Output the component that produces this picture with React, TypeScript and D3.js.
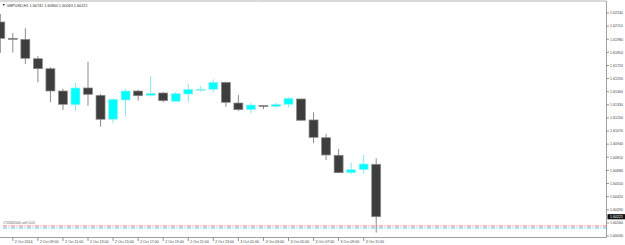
import React from "react";
import * as d3 from "d3";

const openP = [1.62151,1.61989,1.61979,1.61787,1.61688,1.61467,1.61331,1.61497,1.61424,1.61187,1.61378,1.61467,1.61424,1.61447,1.61365,1.61437,1.61482,1.61484,1.61553,1.61348,1.61282,1.61323,1.61315,1.61335,1.61388,1.61180,1.61004,1.60830,1.60657,1.60687,1.60741];
const highP = [1.62230,1.62042,1.62088,1.61814,1.61702,1.61490,1.61549,1.61757,1.61437,1.61391,1.61490,1.61477,1.61616,1.61457,1.61460,1.61536,1.61517,1.61583,1.61559,1.61427,1.61351,1.61328,1.61351,1.61403,1.61393,1.61256,1.61041,1.60892,1.60757,1.60833,1.60800];
const lowP = [1.61844,1.61847,1.61735,1.61553,1.61355,1.61279,1.61272,1.61321,1.61113,1.61147,1.61219,1.61371,1.61411,1.61355,1.61361,1.61358,1.61460,1.61454,1.61311,1.61269,1.61246,1.61286,1.61296,1.61305,1.61170,1.60949,1.60783,1.60654,1.60642,1.60651,1.60063];
const closeP = [1.61989,1.61987,1.61791,1.61688,1.61467,1.61335,1.61497,1.61434,1.61187,1.61385,1.61467,1.61420,1.61444,1.61371,1.61440,1.61484,1.61484,1.61553,1.61355,1.61282,1.61328,1.61321,1.61335,1.61395,1.61177,1.61008,1.60833,1.60657,1.60687,1.60744,1.60221];

const priceTicks = [1.62240,1.62110,1.61980,1.61850,1.61720,1.61590,1.61460,1.61330,1.61200,1.61070,1.60940,1.60810,1.60680,1.60550,1.60420,1.60290,1.60160,1.60030];
const timeTickLabels = ["2 Oct 2014","2 Oct 09:00","2 Oct 11:00","2 Oct 13:00","2 Oct 15:00","2 Oct 17:00","2 Oct 19:00","2 Oct 21:00","2 Oct 23:00","3 Oct 01:00","3 Oct 03:00","3 Oct 05:00","3 Oct 07:00","3 Oct 09:00","3 Oct 11:00","3 Oct 13:00"];

const orderLabel = "#72445500 sell 0.01";
const slLevel = 1.60129;
const openLevel = 1.60109;

const W = 625, H = 245;
const start = new Date(2014, 9, 2, 7);
const end = new Date(2014, 9, 3, 13);
const times = d3.timeHour.range(start, new Date(2014, 9, 3, 14));
const tickTimes = d3.timeHour.every(2)!.range(start, new Date(2014, 9, 3, 14));

export default function App() {
  const x = d3.scaleTime().domain([start, end]).range([0.3, 376.2]);
  const y = d3.scaleLinear().domain([1.6003, 1.6224]).range([236, 13]);
  const plotRight = 606.5, plotBottom = 237.5;
  const font = "'Liberation Sans', Arial, sans-serif";
  const last = closeP.length - 1;
  const header = `GBPUSD,H1  ${openP[last].toFixed(5)} ${highP[last].toFixed(5)} ${lowP[last].toFixed(5)} ${closeP[last].toFixed(5)}`;
  return (
    <div style={{ position: "fixed", left: 0, top: 0 }}>
      <svg width={W} height={H} style={{ display: "block", background: "#fff" }}>
        <defs>
          <clipPath id="plot"><rect x={0} y={1} width={plotRight} height={plotBottom - 1} /></clipPath>
        </defs>
        <rect x={0} y={0} width={W} height={H} fill="#fff" />
        <g clipPath="url(#plot)">
          <line x1={3} x2={plotRight} y1={y(slLevel)} y2={y(slLevel)} stroke="#f46a6a" strokeWidth={1} strokeDasharray="4,1.5,1,1.5" />
          <line x1={3} x2={plotRight} y1={y(openLevel)} y2={y(openLevel)} stroke="#4cccee" strokeWidth={1} strokeDasharray="4,1.5,1,1.5" />
          {times.map((t, i) => {
            const cx = x(t);
            const o = openP[i], c = closeP[i];
            const bull = c > o;
            const top = y(Math.max(o, c)), bot = y(Math.min(o, c));
            const hgt = Math.max(1, bot - top);
            return (
              <g key={i}>
                <line x1={cx} x2={cx} y1={y(highP[i])} y2={y(lowP[i])} stroke={bull ? "#7fe8ec" : "#8a8a8a"} strokeWidth={1} />
                <rect x={cx - 4.5} y={top} width={9} height={hgt}
                  fill={bull ? "#00ffff" : "#3e3e3e"}
                  stroke={bull ? "#9ceff0" : "#8c8c8c"} strokeWidth={0.7} />
              </g>
            );
          })}
        </g>
        <text x={3} y={y(slLevel) - 2.5} fontSize={3.6} fontFamily={font} fill="#666">{orderLabel}</text>
        <line x1={0} x2={plotRight} y1={1} y2={1} stroke="#b4b4b4" strokeWidth={1} />
        <line x1={plotRight} x2={plotRight} y1={1} y2={plotBottom} stroke="#a0a0a0" strokeWidth={1} />
        <line x1={0} x2={plotRight} y1={plotBottom} y2={plotBottom} stroke="#a0a0a0" strokeWidth={1} />
        <path d="M2.5,4 L5,4 L3.75,6 Z" fill="#444" />
        <text x={6.5} y={6.8} fontSize={3.8} fontFamily={font} fill="#333">{header}</text>
        {priceTicks.map((p, i) => (
          <g key={i}>
            <line x1={plotRight} x2={plotRight + 2.5} y1={y(p)} y2={y(p)} stroke="#777" strokeWidth={0.8} />
            <text x={610} y={y(p) + 1.3} fontSize={3.6} fontFamily={font} fill="#444">{p.toFixed(5)}</text>
          </g>
        ))}
        <rect x={607.5} y={y(closeP[last]) - 2.6} width={17.5} height={5.2} fill="#111" />
        <text x={610} y={y(closeP[last]) + 1.3} fontSize={3.6} fontFamily={font} fill="#fff">{closeP[last].toFixed(5)}</text>
        {tickTimes.map((t, i) => (
          <g key={i}>
            <line x1={x(t)} x2={x(t)} y1={plotBottom} y2={plotBottom + 3.5} stroke="#777" strokeWidth={0.8} />
            <text x={x(t) + 2} y={242.6} fontSize={3.6} fontFamily={font} fill="#444">{timeTickLabels[i]}</text>
          </g>
        ))}
      </svg>
    </div>
  );
}
